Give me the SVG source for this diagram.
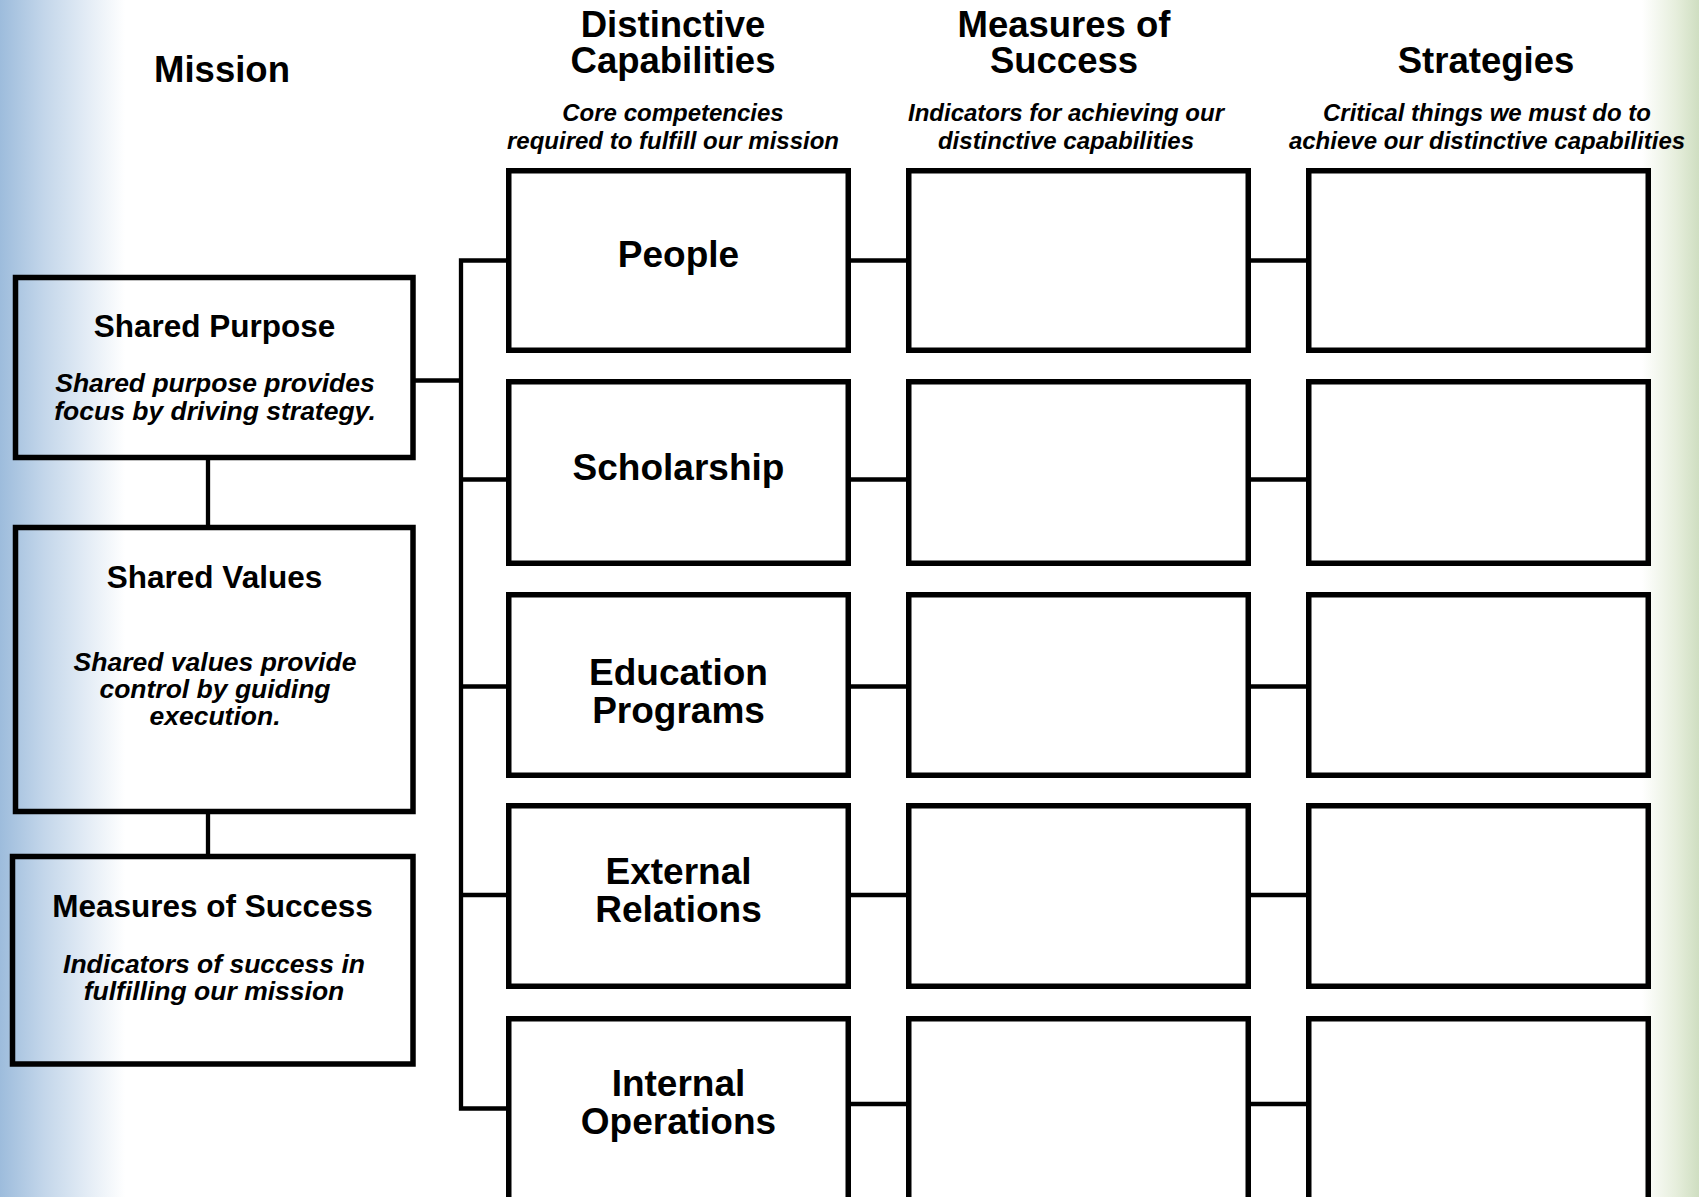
<svg xmlns="http://www.w3.org/2000/svg" width="1699" height="1197" viewBox="0 0 1699 1197">
  <defs>
    <linearGradient id="edgeBlue" x1="0" y1="0" x2="1" y2="0">
      <stop offset="0" stop-color="#9dbcdc"/>
      <stop offset="0.35" stop-color="#c3d6ea"/>
      <stop offset="1" stop-color="#ffffff"/>
    </linearGradient>
    <linearGradient id="edgeGreen" x1="0" y1="0" x2="1" y2="0">
      <stop offset="0" stop-color="#ffffff"/>
      <stop offset="0.6" stop-color="#e6eedc"/>
      <stop offset="1" stop-color="#cfdec1"/>
    </linearGradient>
    <style>
      .box { fill: none; stroke: #000; stroke-width: 5.5; }
      .link { fill: none; stroke: #000; stroke-width: 4.3; }
      .hdr { font-family: "Liberation Sans", Arial, sans-serif; font-weight: bold; font-size: 36.5px; text-anchor: middle; fill: #000; }
      .sub { font-family: "Liberation Sans", Arial, sans-serif; font-weight: bold; font-style: italic; font-size: 24px; text-anchor: middle; fill: #000; }
      .lbl { font-family: "Liberation Sans", Arial, sans-serif; font-weight: bold; font-size: 37px; text-anchor: middle; fill: #000; }
      .ttl { font-family: "Liberation Sans", Arial, sans-serif; font-weight: bold; font-size: 31.5px; text-anchor: middle; fill: #000; }
      .note { font-family: "Liberation Sans", Arial, sans-serif; font-weight: bold; font-style: italic; font-size: 26.5px; text-anchor: middle; fill: #000; }
    </style>
  </defs>

  <!-- page background with tinted side bands -->
  <rect x="0" y="0" width="1699" height="1197" fill="#ffffff"/>
  <rect x="0" y="0" width="125" height="1197" fill="url(#edgeBlue)"/>
  <rect x="1642" y="0" width="57" height="1197" fill="url(#edgeGreen)"/>

  <!-- column headings -->
  <g id="heading-mission">
    <text class="hdr" x="222" y="81.5">Mission</text>
  </g>
  <g id="heading-capabilities">
    <text class="hdr" x="673" y="36.5">Distinctive</text>
    <text class="hdr" x="673" y="72.5">Capabilities</text>
    <text class="sub" x="673" y="121">Core competencies</text>
    <text class="sub" x="673" y="149">required to fulfill our mission</text>
  </g>
  <g id="heading-measures">
    <text class="hdr" x="1064" y="36.5">Measures of</text>
    <text class="hdr" x="1064" y="72.5">Success</text>
    <text class="sub" x="1066" y="121">Indicators for achieving our</text>
    <text class="sub" x="1066" y="149">distinctive capabilities</text>
  </g>
  <g id="heading-strategies">
    <text class="hdr" x="1486" y="72.5">Strategies</text>
    <text class="sub" x="1487" y="121">Critical things we must do to</text>
    <text class="sub" x="1487" y="149">achieve our distinctive capabilities</text>
  </g>

  <!-- connectors -->
  <g id="connectors">
    <!-- mission stack -->
    <line class="link" x1="208" y1="459" x2="208" y2="526"/>
    <line class="link" x1="208" y1="813" x2="208" y2="855"/>
    <line class="link" x1="414" y1="380.5" x2="461" y2="380.5"/>
    <!-- trunk feeding the capabilities -->
    <path class="link" d="M507 260.5 H461 V1108.5 H507"/>
    <line class="link" x1="461" y1="479.5" x2="507" y2="479.5"/>
    <line class="link" x1="461" y1="686.5" x2="507" y2="686.5"/>
    <line class="link" x1="461" y1="895" x2="507" y2="895"/>
    <!-- capabilities to measures -->
    <line class="link" x1="850" y1="260.5" x2="907" y2="260.5"/>
    <line class="link" x1="850" y1="479.5" x2="907" y2="479.5"/>
    <line class="link" x1="850" y1="686.5" x2="907" y2="686.5"/>
    <line class="link" x1="850" y1="895" x2="907" y2="895"/>
    <line class="link" x1="850" y1="1104" x2="907" y2="1104"/>
    <!-- measures to strategies -->
    <line class="link" x1="1250" y1="260.5" x2="1307" y2="260.5"/>
    <line class="link" x1="1250" y1="479.5" x2="1307" y2="479.5"/>
    <line class="link" x1="1250" y1="686.5" x2="1307" y2="686.5"/>
    <line class="link" x1="1250" y1="895" x2="1307" y2="895"/>
    <line class="link" x1="1250" y1="1104" x2="1307" y2="1104"/>
  </g>

  <!-- mission boxes -->
  <g id="shared-purpose">
    <rect class="box" x="15.5" y="277.5" width="397.5" height="180"/>
    <text class="ttl" x="214.5" y="337">Shared Purpose</text>
    <text class="note" x="215" y="392">Shared purpose provides</text>
    <text class="note" x="215" y="419.5">focus by driving strategy.</text>
  </g>
  <g id="shared-values">
    <rect class="box" x="15.5" y="527.5" width="397.5" height="284"/>
    <text class="ttl" x="214.5" y="587.5">Shared Values</text>
    <text class="note" x="215" y="671">Shared values provide</text>
    <text class="note" x="215" y="698">control by guiding</text>
    <text class="note" x="215" y="725">execution.</text>
  </g>
  <g id="mission-measures">
    <rect class="box" x="12.5" y="856.5" width="400.5" height="207.5"/>
    <text class="ttl" x="212.5" y="917">Measures of Success</text>
    <text class="note" x="214" y="973">Indicators of success in</text>
    <text class="note" x="214" y="1000">fulfilling our mission</text>
  </g>

  <!-- distinctive capabilities -->
  <g id="cap-people">
    <rect class="box" x="508.75" y="170.75" width="339.5" height="179.5"/>
    <text class="lbl" x="678.5" y="266.5">People</text>
  </g>
  <g id="cap-scholarship">
    <rect class="box" x="508.75" y="381.75" width="339.5" height="181.5"/>
    <text class="lbl" x="678.5" y="479.5">Scholarship</text>
  </g>
  <g id="cap-education">
    <rect class="box" x="508.75" y="594.75" width="339.5" height="180.5"/>
    <text class="lbl" x="678.5" y="685">Education</text>
    <text class="lbl" x="678.5" y="722.5">Programs</text>
  </g>
  <g id="cap-external">
    <rect class="box" x="508.75" y="805.75" width="339.5" height="180.5"/>
    <text class="lbl" x="678.5" y="883.5">External</text>
    <text class="lbl" x="678.5" y="921.5">Relations</text>
  </g>
  <g id="cap-internal">
    <rect class="box" x="508.75" y="1018.75" width="339.5" height="190"/>
    <text class="lbl" x="678.5" y="1095.5">Internal</text>
    <text class="lbl" x="678.5" y="1133.5">Operations</text>
  </g>

  <!-- measures of success (blank) -->
  <g id="measure-1"><rect class="box" x="908.75" y="170.75" width="339.5" height="179.5"/></g>
  <g id="measure-2"><rect class="box" x="908.75" y="381.75" width="339.5" height="181.5"/></g>
  <g id="measure-3"><rect class="box" x="908.75" y="594.75" width="339.5" height="180.5"/></g>
  <g id="measure-4"><rect class="box" x="908.75" y="805.75" width="339.5" height="180.5"/></g>
  <g id="measure-5"><rect class="box" x="908.75" y="1018.75" width="339.5" height="190"/></g>

  <!-- strategies (blank) -->
  <g id="strategy-1"><rect class="box" x="1308.75" y="170.75" width="339.5" height="179.5"/></g>
  <g id="strategy-2"><rect class="box" x="1308.75" y="381.75" width="339.5" height="181.5"/></g>
  <g id="strategy-3"><rect class="box" x="1308.75" y="594.75" width="339.5" height="180.5"/></g>
  <g id="strategy-4"><rect class="box" x="1308.75" y="805.75" width="339.5" height="180.5"/></g>
  <g id="strategy-5"><rect class="box" x="1308.75" y="1018.75" width="339.5" height="190"/></g>
</svg>
